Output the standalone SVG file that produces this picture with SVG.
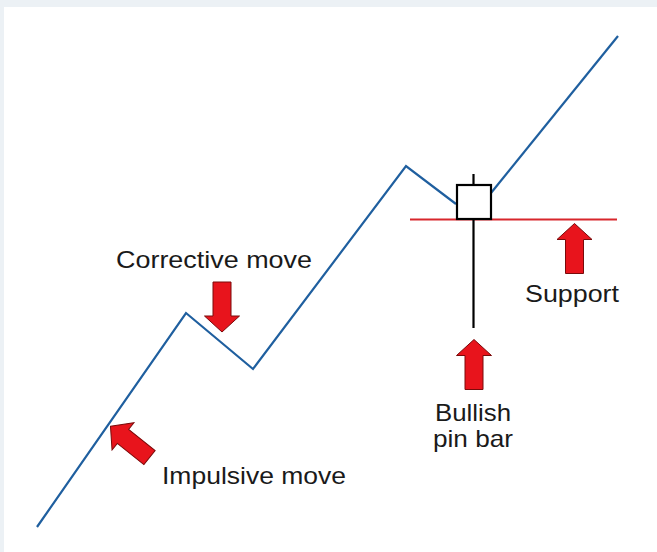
<svg xmlns="http://www.w3.org/2000/svg" width="657" height="552" viewBox="0 0 657 552">
<defs>
<style>
.lbl{font-family:"Liberation Sans",Arial,sans-serif;font-size:24px;fill:#1a1a1a}
.arrow{fill:#E8141C;stroke:#7a0a0a;stroke-width:1;stroke-linejoin:miter}
.price{fill:none;stroke:#1F5F9F;stroke-width:2.2;stroke-linejoin:miter}
.candle{fill:#ffffff;stroke:#000000;stroke-width:2.2}
.wick{stroke:#000000;stroke-width:2.2}
</style>
<path id="upArrow" class="arrow" d="M0,-25 L17.5,-9 L9,-9 L9,25 L-9,25 L-9,-9 L-17.5,-9 Z"/>
</defs>
<rect x="0" y="0" width="657" height="552" fill="#ffffff"/>
<rect x="0" y="0" width="657" height="7" fill="#ECF1F5"/>
<rect x="0" y="0" width="4" height="552" fill="#ECF1F5"/>

<g id="connectors">
<polyline class="price" points="37,527 186,313 253,369 406,166 456,204"/>
<polyline class="price" points="491,193 618,36"/>
<line x1="410" y1="219.5" x2="617" y2="219.5" stroke="#D8262C" stroke-width="2"/>
</g>

<g id="pin-bar">
<line class="wick" x1="473.5" y1="174" x2="473.5" y2="185"/>
<line class="wick" x1="473.5" y1="219" x2="473.5" y2="328"/>
<rect class="candle" x="457" y="185" width="34" height="34"/>
</g>

<g id="corrective-move">
<use href="#upArrow" transform="translate(222,307) rotate(180)"/>
<text class="lbl" x="116" y="268" textLength="196" lengthAdjust="spacingAndGlyphs">Corrective move</text>
</g>

<g id="impulsive-move">
<use href="#upArrow" transform="translate(130,442) rotate(-51.3)"/>
<text class="lbl" x="162" y="484" textLength="184" lengthAdjust="spacingAndGlyphs">Impulsive move</text>
</g>

<g id="bullish-pin-bar">
<use href="#upArrow" transform="translate(474,364.5)"/>
<text class="lbl" x="435" y="421" textLength="76" lengthAdjust="spacingAndGlyphs">Bullish</text>
<text class="lbl" x="433" y="447" textLength="80" lengthAdjust="spacingAndGlyphs">pin bar</text>
</g>

<g id="support">
<use href="#upArrow" transform="translate(574.5,248.5)"/>
<text class="lbl" x="525" y="302" textLength="94" lengthAdjust="spacingAndGlyphs">Support</text>
</g>
</svg>
